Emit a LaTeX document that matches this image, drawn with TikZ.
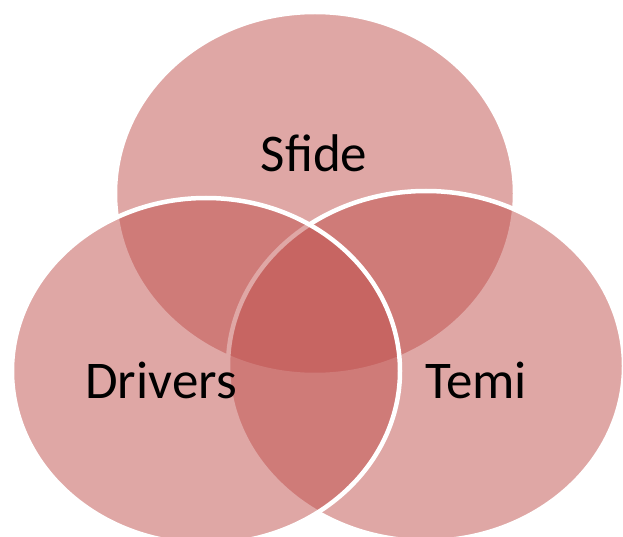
\documentclass[tikz,border=0pt]{standalone}
\usepackage{fontspec}
\setmainfont{Carlito}
\definecolor{venn}{HTML}{C0504D}
\tikzset{
  vennset/.style={fill=venn, fill opacity=0.5, draw=white, line width=4.5pt},
  lbl/.style={anchor=base, inner sep=0pt, font=\fontsize{53}{63}\selectfont, text=black}
}
\begin{document}
\begin{tikzpicture}[x=1pt,y=-1pt]
\useasboundingbox (0,0) rectangle (623,537);
\clip (0,0) rectangle (623,537);
\fill[white] (0,0) rectangle (623,537);
\draw[vennset] (315,193.5) ellipse [x radius=200pt, y radius=181.5pt];
\draw[vennset] (426,366) ellipse [x radius=198pt, y radius=175pt];
\draw[vennset] (206,371) ellipse [x radius=194pt, y radius=173pt];
\node[lbl] (sfide) at (314,172) {Sfide};
\node[lbl] (drivers) at (161,398) {Drivers};
\node[lbl] (temi) at (476,398) {Temi};
\end{tikzpicture}
\end{document}
